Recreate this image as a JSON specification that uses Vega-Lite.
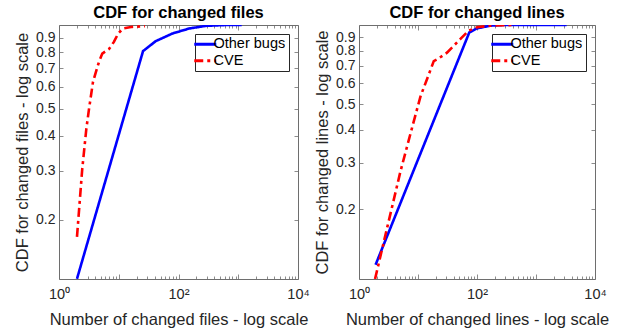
{
  "$schema": "https://vega.github.io/schema/vega-lite/v6.json",
  "padding": {"left": 14, "top": 4, "right": 0, "bottom": 0},
  "datasets": {
    "files": [
      {"series": "Other bugs", "n": 2, "cdf": 0.123},
      {"series": "Other bugs", "n": 25.5, "cdf": 0.806},
      {"series": "Other bugs", "n": 41.5, "cdf": 0.875},
      {"series": "Other bugs", "n": 79, "cdf": 0.932},
      {"series": "Other bugs", "n": 150, "cdf": 0.971},
      {"series": "Other bugs", "n": 285, "cdf": 0.993},
      {"series": "Other bugs", "n": 617, "cdf": 1.0},
      {"series": "Other bugs", "n": 1143, "cdf": 1.0},
      {"series": "CVE", "n": 2, "cdf": 0.174},
      {"series": "CVE", "n": 2.45, "cdf": 0.305},
      {"series": "CVE", "n": 2.87, "cdf": 0.425},
      {"series": "CVE", "n": 3.18, "cdf": 0.5},
      {"series": "CVE", "n": 3.71, "cdf": 0.626},
      {"series": "CVE", "n": 4.67, "cdf": 0.738},
      {"series": "CVE", "n": 5.3, "cdf": 0.79},
      {"series": "CVE", "n": 6.87, "cdf": 0.82},
      {"series": "CVE", "n": 8.3, "cdf": 0.87},
      {"series": "CVE", "n": 9.8, "cdf": 0.932},
      {"series": "CVE", "n": 11.8, "cdf": 0.971},
      {"series": "CVE", "n": 16.9, "cdf": 0.985},
      {"series": "CVE", "n": 27.5, "cdf": 0.99}
    ],
    "lines": [
      {"series": "Other bugs", "n": 1.91, "cdf": 0.123},
      {"series": "Other bugs", "n": 74, "cdf": 0.937},
      {"series": "Other bugs", "n": 100, "cdf": 0.971},
      {"series": "Other bugs", "n": 168, "cdf": 0.994},
      {"series": "Other bugs", "n": 282, "cdf": 1.0},
      {"series": "Other bugs", "n": 3300, "cdf": 1.0},
      {"series": "CVE", "n": 1.87, "cdf": 0.1086},
      {"series": "CVE", "n": 5.06, "cdf": 0.279},
      {"series": "CVE", "n": 7.46, "cdf": 0.387},
      {"series": "CVE", "n": 11, "cdf": 0.535},
      {"series": "CVE", "n": 18.5, "cdf": 0.729},
      {"series": "CVE", "n": 21, "cdf": 0.74},
      {"series": "CVE", "n": 31, "cdf": 0.785},
      {"series": "CVE", "n": 52, "cdf": 0.884},
      {"series": "CVE", "n": 72, "cdf": 0.951},
      {"series": "CVE", "n": 100, "cdf": 0.98},
      {"series": "CVE", "n": 168, "cdf": 0.994},
      {"series": "CVE", "n": 415, "cdf": 1.0}
    ]
  },
  "config": {
    "font": "Liberation Sans",
    "view": {"stroke": "#6e6e6e", "strokeWidth": 1},
    "axis": {
      "grid": false,
      "domain": false,
      "labelFont": "Liberation Sans",
      "labelFontSize": 14,
      "labelColor": "#262626",
      "titleFont": "Liberation Sans",
      "titleFontSize": 16.5,
      "titleFontWeight": "normal",
      "titleColor": "#262626",
      "tickColor": "#6e6e6e",
      "tickWidth": 0.8
    },
    "title": {"font": "Liberation Sans", "fontSize": 16.5, "fontWeight": "bold", "color": "#000000", "offset": 3},
    "legend": {
      "orient": "top-right",
      "offset": 9,
      "title": null,
      "fillColor": "#ffffff",
      "strokeColor": "#262626",
      "padding": 3,
      "cornerRadius": 0,
      "labelFont": "Liberation Sans",
      "labelFontSize": 14.5,
      "labelColor": "#000000",
      "labelOffset": 1,
      "symbolType": "M-2,0H2",
      "symbolSize": 121,
      "symbolStrokeWidth": 3,
      "rowPadding": 1.5
    },
    "concat": {"spacing": 4}
  },
  "hconcat": [
    {
      "title": "CDF for changed files",
      "width": 239,
      "height": 254,
      "data": {"name": "files"},
      "layer": [
        {
          "mark": {"type": "line", "strokeWidth": 2.6, "clip": true},
          "encoding": {
            "x": {"field": "n", "type": "quantitative",
              "scale": {"type": "log", "domain": [1, 10000], "nice": false},
              "axis": {"orient": "bottom", "title": "Number of changed files - log scale",
                "values": [1,2,3,4,5,6,7,8,9,10,20,30,40,50,60,70,80,90,100,200,300,400,500,600,700,800,900,1000,2000,3000,4000,5000,6000,7000,8000,9000,10000],
                "labelExpr": "datum.value == 1 ? '10⁰' : datum.value == 100 ? '10²' : datum.value == 10000 ? '10⁴' : ''",
                "labelFontSize": 14.5,
                "tickSize": {"condition": {"test": "datum.value == 1 || datum.value == 10 || datum.value == 100 || datum.value == 1000 || datum.value == 10000", "value": -5}, "value": -3},
                "labelPadding": 13, "titlePadding": 9, "labelFlush": false, "labelOverlap": false}},
            "y": {"field": "cdf", "type": "quantitative",
              "scale": {"type": "log", "domain": [0.1228, 1], "nice": false},
              "axis": {"orient": "left", "title": "CDF for changed files - log scale",
                "values": [0.2,0.3,0.4,0.5,0.6,0.7,0.8,0.9], "format": ".1f",
                "tickSize": -4, "labelPadding": 8, "titlePadding": 5, "labelFlush": false, "labelOverlap": false}},
            "color": {"field": "series", "type": "nominal", "sort": ["Other bugs", "CVE"],
              "scale": {"domain": ["Other bugs", "CVE"], "range": ["#0000ff", "#ff0000"]}},
            "strokeDash": {"field": "series", "type": "nominal", "sort": ["Other bugs", "CVE"],
              "scale": {"domain": ["Other bugs", "CVE"], "range": [[1, 0], [9, 4, 3, 4]]}}
          }
        },
        {
          "mark": {"type": "line", "opacity": 0},
          "encoding": {
            "x": {"field": "n", "type": "quantitative",
              "axis": {"orient": "top", "title": null, "labels": false,
                "values": [1,2,3,4,5,6,7,8,9,10,20,30,40,50,60,70,80,90,100,200,300,400,500,600,700,800,900,1000,2000,3000,4000,5000,6000,7000,8000,9000,10000],
                "tickSize": {"condition": {"test": "datum.value == 1 || datum.value == 10 || datum.value == 100 || datum.value == 1000 || datum.value == 10000", "value": -5}, "value": -3}}},
            "y": {"field": "cdf", "type": "quantitative",
              "axis": {"orient": "right", "title": null, "labels": false,
                "values": [0.2,0.3,0.4,0.5,0.6,0.7,0.8,0.9], "tickSize": -4}},
            "detail": {"field": "series"}
          }
        }
      ],
      "resolve": {"axis": {"x": "independent", "y": "independent"}}
    },
    {
      "title": "CDF for changed lines",
      "width": 236,
      "height": 254,
      "data": {"name": "lines"},
      "layer": [
        {
          "mark": {"type": "line", "strokeWidth": 2.6, "clip": true},
          "encoding": {
            "x": {"field": "n", "type": "quantitative",
              "scale": {"type": "log", "domain": [1, 10000], "nice": false},
              "axis": {"orient": "bottom", "title": "Number of changed lines - log scale",
                "values": [1,2,3,4,5,6,7,8,9,10,20,30,40,50,60,70,80,90,100,200,300,400,500,600,700,800,900,1000,2000,3000,4000,5000,6000,7000,8000,9000,10000],
                "labelExpr": "datum.value == 1 ? '10⁰' : datum.value == 100 ? '10²' : datum.value == 10000 ? '10⁴' : ''",
                "labelFontSize": 14.5,
                "tickSize": {"condition": {"test": "datum.value == 1 || datum.value == 10 || datum.value == 100 || datum.value == 1000 || datum.value == 10000", "value": -5}, "value": -3},
                "labelPadding": 13, "titlePadding": 9, "labelFlush": false, "labelOverlap": false}},
            "y": {"field": "cdf", "type": "quantitative",
              "scale": {"type": "log", "domain": [0.1086, 1], "nice": false},
              "axis": {"orient": "left", "title": "CDF for changed lines - log scale",
                "values": [0.2,0.3,0.4,0.5,0.6,0.7,0.8,0.9], "format": ".1f",
                "tickSize": -4, "labelPadding": 8, "titlePadding": 5, "labelFlush": false, "labelOverlap": false}},
            "color": {"field": "series", "type": "nominal", "sort": ["Other bugs", "CVE"],
              "scale": {"domain": ["Other bugs", "CVE"], "range": ["#0000ff", "#ff0000"]}},
            "strokeDash": {"field": "series", "type": "nominal", "sort": ["Other bugs", "CVE"],
              "scale": {"domain": ["Other bugs", "CVE"], "range": [[1, 0], [9, 4, 3, 4]]}}
          }
        },
        {
          "mark": {"type": "line", "opacity": 0},
          "encoding": {
            "x": {"field": "n", "type": "quantitative",
              "axis": {"orient": "top", "title": null, "labels": false,
                "values": [1,2,3,4,5,6,7,8,9,10,20,30,40,50,60,70,80,90,100,200,300,400,500,600,700,800,900,1000,2000,3000,4000,5000,6000,7000,8000,9000,10000],
                "tickSize": {"condition": {"test": "datum.value == 1 || datum.value == 10 || datum.value == 100 || datum.value == 1000 || datum.value == 10000", "value": -5}, "value": -3}}},
            "y": {"field": "cdf", "type": "quantitative",
              "axis": {"orient": "right", "title": null, "labels": false,
                "values": [0.2,0.3,0.4,0.5,0.6,0.7,0.8,0.9], "tickSize": -4}},
            "detail": {"field": "series"}
          }
        }
      ],
      "resolve": {"axis": {"x": "independent", "y": "independent"}}
    }
  ],
  "resolve": {"scale": {"color": "independent", "strokeDash": "independent"}}
}
